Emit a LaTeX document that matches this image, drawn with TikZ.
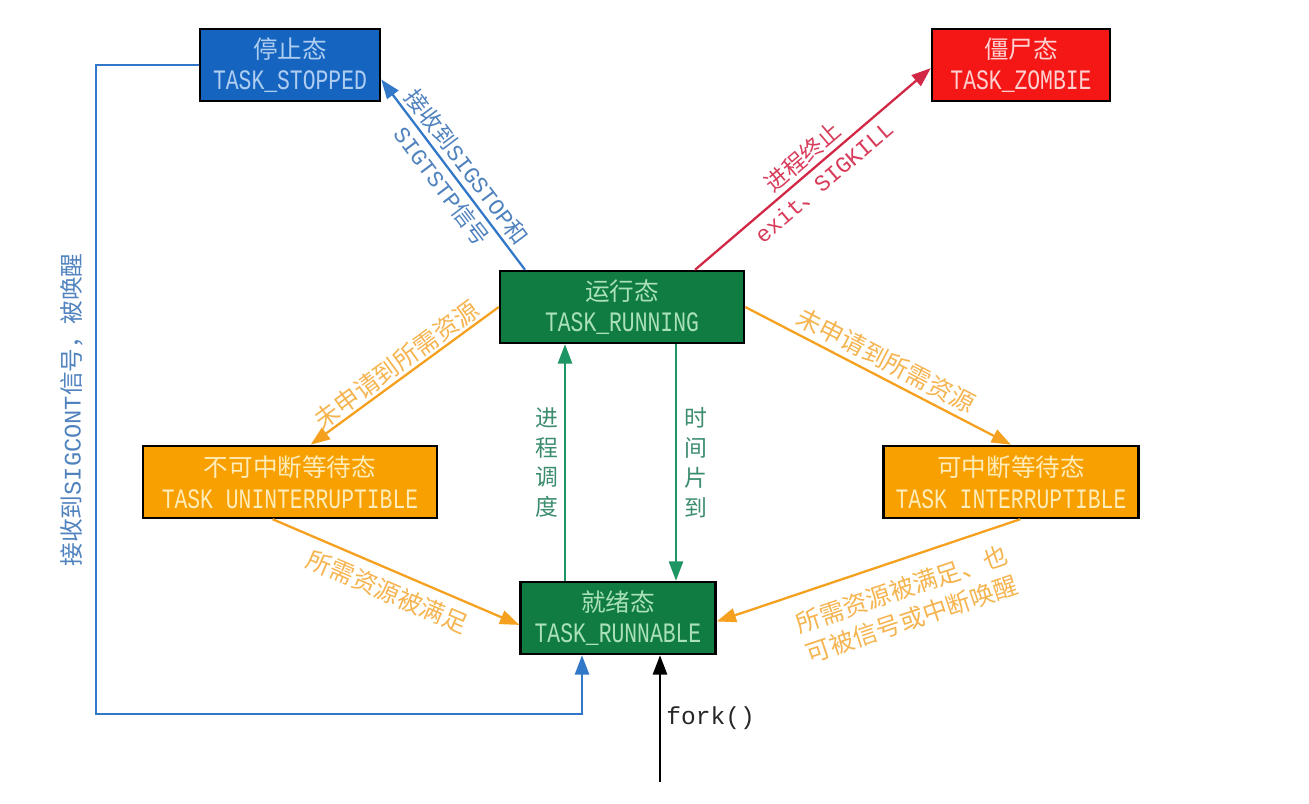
\documentclass[tikz,border=0pt]{standalone}
\usepackage{fontspec}
\setmainfont{Liberation Mono}
\newfontfamily\cjk{Noto Sans CJK SC}
\newfontfamily\tallmono{Liberation Mono}[FakeStretch=0.76]
\usetikzlibrary{arrows.meta, calc, positioning}

\definecolor{stopblue}{RGB}{21,101,192}
\definecolor{stoptext}{RGB}{175,205,240}
\definecolor{zombiered}{RGB}{245,22,22}
\definecolor{zombietext}{RGB}{255,208,208}
\definecolor{rungreen}{RGB}{16,124,65}
\definecolor{runtext}{RGB}{170,225,185}
\definecolor{waitorange}{RGB}{247,160,0}
\definecolor{waittext}{RGB}{255,236,185}
\definecolor{lineblue}{RGB}{50,120,200}
\definecolor{linered}{RGB}{210,40,70}
\definecolor{lineorange}{RGB}{245,160,30}
\definecolor{linegreen}{RGB}{30,150,100}
\definecolor{labelblue}{RGB}{80,130,190}
\definecolor{labelred}{RGB}{215,60,90}
\definecolor{labelorange}{RGB}{245,180,80}
\definecolor{labelgreen}{RGB}{60,140,110}

\newcommand{\statetext}[2]{{\cjk #1}\\{\tallmono\fontsize{16}{18}\selectfont #2}}

\begin{document}
\begin{tikzpicture}[x=0.02cm, y=-0.02cm,
		% Define styles
		statebox/.style={rectangle, draw=black, line width=1.4pt, align=center, inner sep=0pt, minimum height=1.44cm, font=\fontsize{14}{18}\selectfont},
		stopbox/.style={statebox, fill=stopblue, text=stoptext},
		zombiebox/.style={statebox, fill=zombiered, text=zombietext},
		runbox/.style={statebox, fill=rungreen, text=runtext},
		waitbox/.style={statebox, fill=waitorange, text=waittext},
		edgelabel/.style={align=center, inner sep=1pt, font=\fontsize{13}{18}\selectfont},
		bluelabel/.style={edgelabel, text=labelblue},
		redlabel/.style={edgelabel, text=labelred},
		orangelabel/.style={edgelabel, text=labelorange, font=\cjk\fontsize{14}{18}\selectfont},
		greenlabel/.style={edgelabel, text=labelgreen, font=\cjk\fontsize{13}{17}\selectfont},
		forklabel/.style={inner sep=1pt, text=black!85, font=\fontsize{14}{16}\selectfont},
		bluearrow/.style={-{Triangle[length=11pt,width=8pt]}, line width=1.3pt, draw=lineblue},
		redarrow/.style={-{Triangle[length=11pt,width=8pt]}, line width=1.3pt, draw=linered},
		orangearrow/.style={-{Triangle[length=11pt,width=8pt]}, line width=1.3pt, draw=lineorange},
		greenarrow/.style={-{Triangle[length=11pt,width=8pt]}, line width=1.3pt, draw=linegreen},
		blackarrow/.style={-{Triangle[length=11pt,width=8pt]}, line width=1.3pt, draw=black}
		]
		\useasboundingbox (0,0) rectangle (1309,804);
		
		% States
		\node[stopbox, minimum width=3.6cm] (stopped) at (290,65) {\statetext{停止态}{TASK\_STOPPED}};
		\node[zombiebox, minimum width=3.56cm] (zombie) at (1021,65) {\statetext{僵尸态}{TASK\_ZOMBIE}};
		\node[runbox, minimum width=4.88cm] (running) at (622,307) {\statetext{运行态}{TASK\_RUNNING}};
		\node[waitbox, minimum width=5.88cm] (unint) at (290,482) {\statetext{不可中断等待态}{TASK UNINTERRUPTIBLE}};
		\node[waitbox, minimum width=5.1cm] (inter) at (1011,482) {\statetext{可中断等待态}{TASK INTERRUPTIBLE}};
		\node[runbox, minimum width=3.9cm] (runnable) at (618,618) {\statetext{就绪态}{TASK\_RUNNABLE}};
		
		% Stop and exit
		\draw[bluearrow] (running.159) -- node[pos=0.49, sloped, bluelabel] {{\cjk 接收到}SIGSTOP{\cjk 和}\\SIGTSTP{\cjk 信号}} (stopped.-9);
		\draw[redarrow] (running.27) -- node[pos=0.5, sloped, redlabel] {{\cjk 进程终止}\\exit{\cjk 、}SIGKILL} (zombie.182);
		
		% Waiting states
		\draw[orangearrow] (running.west) -- node[sloped, above, orangelabel] {未申请到所需资源} (unint.61);
		\draw[orangearrow] (running.east) -- node[sloped, above=2pt, orangelabel] {未申请到所需资源} (inter.north);
		\draw[orangearrow] (unint.-115) -- node[sloped, below=4pt, orangelabel] {所需资源被满足} (runnable.184);
		\draw[orangearrow] (inter.-76) -- node[pos=0.42, sloped, below=8pt, orangelabel] {所需资源被满足、也\\可被信号或中断唤醒} (runnable.-2);
		
		% Scheduling
		\coordinate (schedfoot) at ([xshift=-1.06cm]runnable.north);
		\coordinate (slicetop) at ([xshift=1.08cm]running.south);
		\draw[greenarrow] (schedfoot) -- (schedfoot |- running.south) node[midway, left=2pt, greenlabel] {进\\程\\调\\度};
		\draw[greenarrow] (slicetop) -- (slicetop |- runnable.north) node[midway, right=3pt, greenlabel] {时\\间\\片\\到};
		
		% Wake up from stopped
		\coordinate (wakefoot) at ([xshift=-0.72cm]runnable.south);
		\draw[bluearrow] (stopped.west) -- ++(-103,0) |- ([yshift=-1.18cm]wakefoot) -- (wakefoot);
		\node[bluelabel, rotate=90, font=\fontsize{13.5}{18}\selectfont] (wakelabel) at (72,410) {{\cjk 接收到}SIGCONT{\cjk 信号，被唤醒}};
		
		% fork
		\coordinate (forkfoot) at (660,782);
		\draw[blackarrow] (forkfoot) -- (forkfoot |- runnable.south) node[midway, right=2pt, forklabel] {fork()};
		
	\end{tikzpicture}
\end{document}
